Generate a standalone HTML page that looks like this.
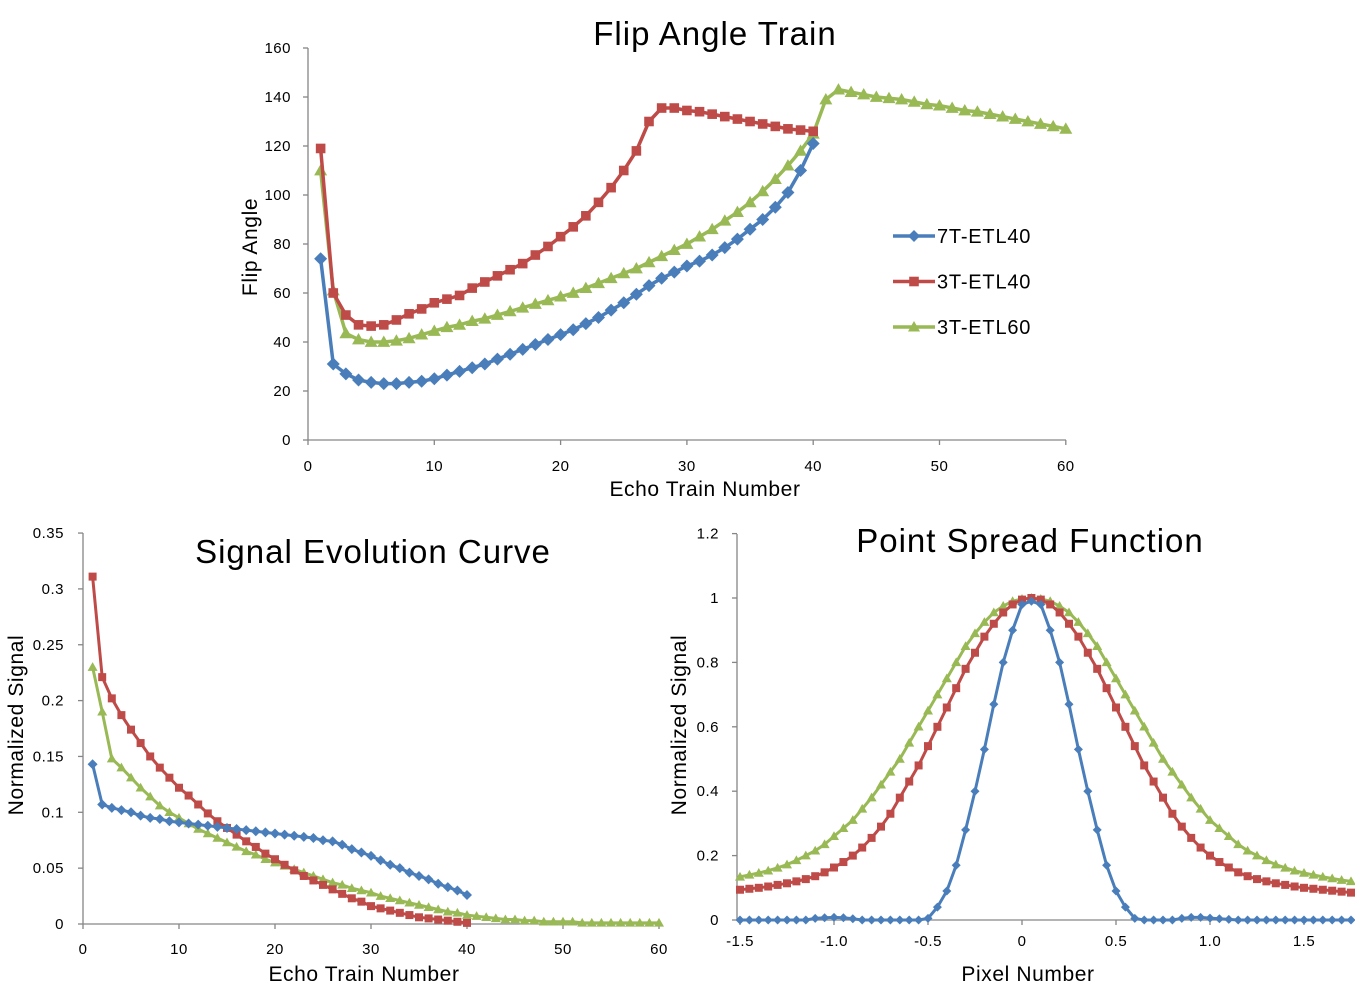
<!DOCTYPE html>
<html><head><meta charset="utf-8"><style>
body{margin:0;background:#fff;}
svg{display:block;font-family:"Liberation Sans",Arial,sans-serif;}
.ttl{font-size:33px;letter-spacing:1px;}
.ax{font-size:21px;letter-spacing:0.6px;}
</style></head><body>
<svg id="s" width="1355" height="997" viewBox="0 0 1355 997">
<text class="ttl" x="715" y="45" text-anchor="middle">Flip Angle Train</text>
<text class="ttl" x="373" y="563" text-anchor="middle">Signal Evolution Curve</text>
<text class="ttl" x="1030" y="552" text-anchor="middle">Point Spread Function</text>
<text class="ax" x="705" y="496" text-anchor="middle">Echo Train Number</text>
<text class="ax" transform="translate(257,247) rotate(-90)" text-anchor="middle">Flip Angle</text>
<text class="ax" x="364" y="981" text-anchor="middle">Echo Train Number</text>
<text class="ax" transform="translate(23,725) rotate(-90)" text-anchor="middle">Normalized Signal</text>
<text class="ax" x="1028" y="981" text-anchor="middle">Pixel Number</text>
<text class="ax" transform="translate(686,725) rotate(-90)" text-anchor="middle">Normalized Signal</text>
<g id="legend"></g>
</svg>
<script>
// ---- Top chart data ----
const topBlue=[74,31,27,24.5,23.5,23,23,23.5,24,25,26.5,28,29.5,31,33,35,37,39,41,43,45,47.5,50,53,56,59.5,63,66,68.5,71,73,75.5,78.5,82,86,90,95,101,110,121];
const topRed=[119,60,51,47,46.5,47,49,51.5,53.5,56,57.5,59,62,64.5,67,69.5,72,75.5,79,83,87,91.5,97,103,110,118,130,135.5,135.5,134.5,134,133,132,131,130,129,128,127,126.5,126];
const topGreen=[110,61,43.5,41,40,40,40.5,41.5,43,44.5,46,47,48.5,49.5,51,52.5,54,55.5,57,58.5,60,62,64,66,68,70,72.5,75,77.5,80,83,86,89.5,93,97,101.5,106.5,112,118,125,139,143,142,141,140,139.5,139,138,137,136.5,135.5,134.5,134,133,132,131,130,129,128,127];
const topXTicks=[0,10,20,30,40,50,60];
const topYTicks=[0,20,40,60,80,100,120,140,160];
// ---- Bottom-left data ----
const seBlue=[0.143,0.107,0.104,0.102,0.1,0.097,0.095,0.094,0.092,0.091,0.09,0.089,0.088,0.087,0.086,0.085,0.084,0.083,0.082,0.081,0.08,0.079,0.078,0.077,0.075,0.074,0.071,0.067,0.064,0.061,0.057,0.053,0.05,0.046,0.043,0.04,0.036,0.033,0.03,0.026];
const seRed=[0.311,0.221,0.202,0.187,0.174,0.162,0.15,0.14,0.131,0.122,0.115,0.107,0.099,0.092,0.086,0.08,0.074,0.069,0.063,0.058,0.053,0.048,0.043,0.039,0.035,0.031,0.027,0.023,0.02,0.016,0.014,0.012,0.01,0.008,0.006,0.005,0.004,0.003,0.002,0.001];
const seGreen=[0.23,0.19,0.148,0.14,0.131,0.122,0.114,0.106,0.1,0.095,0.09,0.085,0.081,0.077,0.073,0.069,0.065,0.062,0.058,0.055,0.052,0.049,0.046,0.043,0.04,0.037,0.035,0.032,0.03,0.028,0.025,0.023,0.021,0.019,0.017,0.015,0.013,0.011,0.01,0.008,0.007,0.006,0.005,0.004,0.004,0.003,0.003,0.002,0.002,0.002,0.002,0.001,0.001,0.001,0.001,0.001,0.001,0.001,0.001,0.001];
const seXTicks=[0,10,20,30,40,50,60];
const seYTicks=[0,0.05,0.1,0.15,0.2,0.25,0.3,0.35];
const seYLabels=["0","0.05","0.1","0.15","0.2","0.25","0.3","0.35"];
// ---- Bottom-right data ----
const psfX=[-1.5,-1.45,-1.4,-1.35,-1.3,-1.25,-1.2,-1.15,-1.1,-1.05,-1.0,-0.95,-0.9,-0.85,-0.8,-0.75,-0.7,-0.65,-0.6,-0.55,-0.5,-0.45,-0.4,-0.35,-0.3,-0.25,-0.2,-0.15,-0.1,-0.05,0,0.05,0.1,0.15,0.2,0.25,0.3,0.35,0.4,0.45,0.5,0.55,0.6,0.65,0.7,0.75,0.8,0.85,0.9,0.95,1.0,1.05,1.1,1.15,1.2,1.25,1.3,1.35,1.4,1.45,1.5,1.55,1.6,1.65,1.7,1.75];
const psfBlue=[0,0,0,0,0,0,0,0,0.005,0.007,0.008,0.007,0.004,0,0,0,0,0,0,0,0.005,0.04,0.09,0.17,0.28,0.4,0.53,0.67,0.8,0.9,0.98,0.99,0.98,0.9,0.8,0.67,0.53,0.4,0.28,0.17,0.09,0.04,0.005,0,0,0,0,0.005,0.008,0.008,0.006,0.004,0.002,0,0,0,0,0,0,0,0,0,0,0,0,0];
const psfRed=[0.094,0.097,0.1,0.104,0.109,0.114,0.12,0.127,0.136,0.148,0.163,0.18,0.2,0.225,0.255,0.29,0.33,0.38,0.43,0.48,0.54,0.6,0.66,0.72,0.78,0.83,0.88,0.92,0.955,0.98,0.995,1.0,0.995,0.98,0.955,0.92,0.88,0.83,0.78,0.72,0.66,0.6,0.54,0.48,0.43,0.38,0.33,0.29,0.255,0.225,0.2,0.18,0.163,0.148,0.136,0.127,0.12,0.114,0.109,0.104,0.1,0.097,0.094,0.091,0.088,0.085];
const psfGreen=[0.134,0.14,0.146,0.153,0.162,0.172,0.185,0.2,0.215,0.235,0.26,0.285,0.31,0.345,0.38,0.42,0.46,0.5,0.55,0.6,0.65,0.7,0.75,0.8,0.85,0.89,0.925,0.955,0.975,0.99,0.997,1.0,0.997,0.99,0.975,0.955,0.925,0.89,0.85,0.8,0.75,0.7,0.65,0.6,0.55,0.5,0.46,0.42,0.38,0.345,0.31,0.285,0.26,0.235,0.215,0.2,0.185,0.172,0.162,0.153,0.146,0.14,0.134,0.129,0.124,0.12];
const psfXTicks=[-1.5,-1.0,-0.5,0,0.5,1.0,1.5];
const psfXLabels=["-1.5","-1.0","-0.5","0","0.5","1.0","1.5"];
const psfYTicks=[0,0.2,0.4,0.6,0.8,1,1.2];
const psfYLabels=["0","0.2","0.4","0.6","0.8","1","1.2"];
const seriesNames=["7T-ETL40","3T-ETL40","3T-ETL60"];

const NS="http://www.w3.org/2000/svg";
const svg=document.getElementById('s');
const BLUE="#4a7ebb",RED="#be4b48",GREEN="#98b954",AX="#868686";
function mk(tag,attrs,parent){const e=document.createElementNS(NS,tag);for(const k in attrs)e.setAttribute(k,attrs[k]);(parent||svg).appendChild(e);return e;}
function marker(g,type,x,y,s,c){
  let e;
  if(type==='d'){e=mk('polygon',{points:`${x},${y-s} ${x+s},${y} ${x},${y+s} ${x-s},${y}`,fill:c},g);}
  else if(type==='s'){e=mk('rect',{x:x-s*0.8,y:y-s*0.8,width:s*1.6,height:s*1.6,fill:c},g);}
  else {e=mk('polygon',{points:`${x},${y-s} ${x+s},${y+s*0.75} ${x-s},${y+s*0.75}`,fill:c},g);}
  
  
}
function drawSeries(name,xs,ys,sx,sy,c,type,s,w){
  const g=mk('g',{});
  
  
  const pts=ys.map((v,i)=>sx(xs[i])+','+sy(v)).join(' ');
  const pl=mk('polyline',{points:pts,fill:'none',stroke:c,'stroke-width':w,'stroke-linejoin':'round'},g);
  
  
  ys.forEach((v,i)=>marker(g,type,sx(xs[i]),sy(v),s,c));
}
function axes(prefix,x0,x1,y0,y1,sx,sy,xt,xl,yt,yl,xlabY,ylabX){
  const g=mk('g',{});
  
  
  mk('line',{x1:x0,y1:y0,x2:x0,y2:y1,stroke:AX,'stroke-width':1.3},g);
  mk('line',{x1:x0,y1:y0,x2:x1,y2:y0,stroke:AX,'stroke-width':1.3},g);
  yt.forEach((v,i)=>{const y=sy(v);mk('line',{x1:x0-5,y1:y,x2:x0,y2:y,stroke:AX,'stroke-width':1.3},g);
    const t=mk('text',{x:ylabX,y:y+5,'font-size':15,'letter-spacing':0.5,'text-anchor':'end'},g);t.textContent=yl[i];
    
    });
  xt.forEach((v,i)=>{const x=sx(v);mk('line',{x1:x,y1:y0,x2:x,y2:y0+5,stroke:AX,'stroke-width':1.3},g);
    const t=mk('text',{x:x,y:xlabY,'font-size':15,'letter-spacing':0.5,'text-anchor':'middle'},g);t.textContent=xl[i];
    
    });
}
const idx=n=>Array.from({length:n},(_,i)=>i+1);
const tsx=v=>308+v*12.63, tsy=v=>440-v*2.45;
axes('top',308,1066,440,48,tsx,tsy,topXTicks,topXTicks.map(String),topYTicks,topYTicks.map(String),471,291);
drawSeries('series-3t-etl60',idx(topGreen.length),topGreen,tsx,tsy,GREEN,'t',6.5,3.5);
drawSeries('series-3t-etl40',idx(topRed.length),topRed,tsx,tsy,RED,'s',6,3.5);
drawSeries('series-7t-etl40',idx(topBlue.length),topBlue,tsx,tsy,BLUE,'d',6.5,3.5);
const bsx=v=>83+v*9.6, bsy=v=>924-v*1117;
axes('bl',83,661,924,533,bsx,bsy,seXTicks,seXTicks.map(String),seYTicks,seYLabels,954,64);
drawSeries('se-3t-etl60',idx(seGreen.length),seGreen,bsx,bsy,GREEN,'t',5,3);
drawSeries('se-3t-etl40',idx(seRed.length),seRed,bsx,bsy,RED,'s',5,3);
drawSeries('se-7t-etl40',idx(seBlue.length),seBlue,bsx,bsy,BLUE,'d',5,3);
const rsx=v=>1022+v*188, rsy=v=>920-v*322;
axes('br',737,1352,920,534,rsx,rsy,psfXTicks,psfXLabels,psfYTicks,psfYLabels,946,719);
drawSeries('psf-3t-etl60',psfX,psfGreen,rsx,rsy,GREEN,'t',5,3);
drawSeries('psf-3t-etl40',psfX,psfRed,rsx,rsy,RED,'s',5,3);
drawSeries('psf-7t-etl40',psfX,psfBlue,rsx,rsy,BLUE,'d',4.5,3);
const lg=document.getElementById('legend');
const lc=[BLUE,RED,GREEN],lt=['d','s','t'];
seriesNames.forEach((n,i)=>{const y=236+i*45.5;
  const g=mk('g',{},lg);
  
  
  mk('line',{x1:893,y1:y,x2:935,y2:y,stroke:lc[i],'stroke-width':3.5},g);
  marker(g,lt[i],914,y,6,lc[i]);
  const t=mk('text',{x:937,y:y+7,'font-size':20,'letter-spacing':0.8},g);t.textContent=n;
  
  
});
</script>
</body></html>
